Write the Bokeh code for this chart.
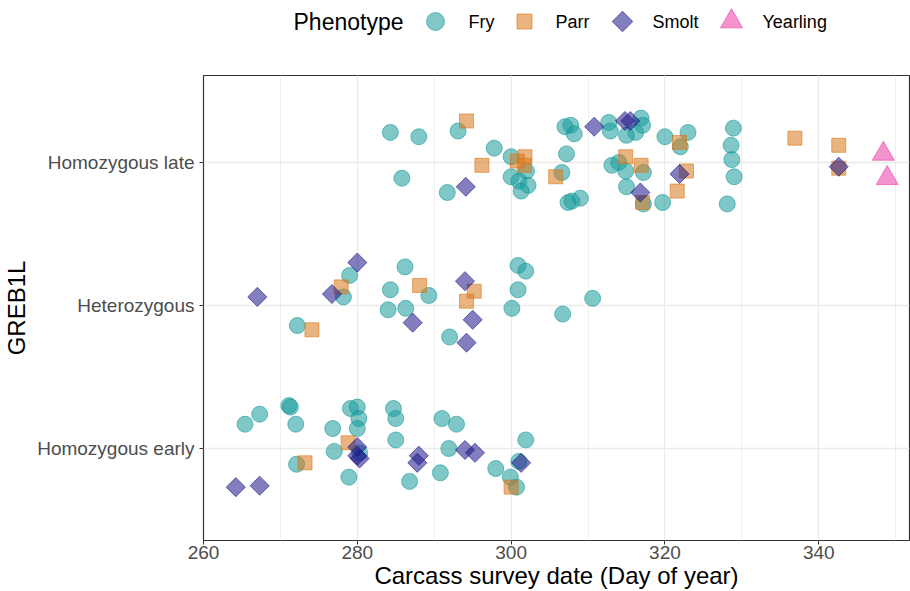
import numpy as np
from bokeh.plotting import figure
from bokeh.layouts import column
from bokeh.models import (Range1d, FixedTicker, SingleIntervalTicker, ColumnDataSource)
from bokeh.core.properties import value
from bokeh.embed import file_html
from bokeh.resources import INLINE

GENOTYPES = ["Homozygous early", "Heterozygous", "Homozygous late"]
PHENOTYPES = ["Fry", "Parr", "Smolt", "Yearling"]
LEGEND_TITLE = "Phenotype"

# ---- Fry ----
fry_late_day = [284.3, 288.0, 285.8, 293.1, 291.7, 297.8, 300.0, 302.0, 300.0, 301.0, 302.2, 301.3,
                306.6, 307.2, 307.0, 307.75, 308.2, 307.4, 307.9, 309.0, 312.7, 312.9, 315.0, 316.2,
                316.9, 317.1, 320.0, 323.0, 322.0, 313.1, 314.0, 314.9, 317.2, 315.0, 317.2, 319.7,
                328.9, 328.6, 328.7, 329.0, 328.1]
fry_late_jit = [0.21, 0.18, -0.11, 0.22, -0.21, 0.10, 0.04, -0.06, -0.10, -0.13, -0.16, -0.20,
                -0.07, 0.06, 0.25, 0.26, 0.20, -0.28, -0.27, -0.25, 0.28, 0.22, 0.19, 0.21,
                0.31, 0.26, 0.18, 0.21, 0.11, -0.02, 0.00, -0.06, -0.07, -0.17, -0.29, -0.28,
                0.24, 0.12, 0.02, -0.10, -0.29]
fry_het_day = [272.2, 279.0, 278.2, 286.2, 284.3, 289.3, 284.0, 286.3, 292.0, 300.9, 301.9, 300.9,
               300.1, 306.7, 310.6]
fry_het_jit = [-0.14, 0.21, 0.06, 0.27, 0.11, 0.07, -0.03, -0.02, -0.22, 0.28, 0.24, 0.11,
               -0.02, -0.06, 0.05]
fry_early_day = [265.4, 267.3, 271.1, 271.3, 272.0, 272.1, 276.8, 277.0, 278.9, 279.1, 280.0, 280.2,
                 280.0, 280.3, 284.7, 285.0, 285.0, 286.8, 291.0, 292.9, 291.9, 290.8, 298.0, 299.9,
                 300.7, 301.9, 301.0]
fry_early_jit = [0.17, 0.24, 0.30, 0.29, 0.17, -0.11, 0.14, -0.02, -0.20, 0.28, 0.29, 0.21,
                 0.14, -0.03, 0.28, 0.21, 0.06, -0.23, 0.21, 0.17, 0.00, -0.17, -0.14, -0.20,
                 -0.27, 0.06, -0.09]

# ---- Parr ----
parr_late_day = [294.2, 296.2, 300.8, 301.8, 301.7, 305.8, 314.9, 316.9, 317.1, 321.9, 322.8, 321.6,
                 336.9, 342.6, 342.6]
parr_late_jit = [0.29, -0.02, 0.01, 0.04, -0.02, -0.10, 0.04, -0.02, -0.28, 0.14, -0.06, -0.20,
                 0.17, 0.12, -0.04]
parr_het_day = [274.1, 277.9, 288.1, 295.2, 294.2]
parr_het_jit = [-0.17, 0.13, 0.14, 0.10, 0.03]
parr_early_day = [273.2, 278.8, 300.0]
parr_early_jit = [-0.10, 0.04, -0.27]

# ---- Smolt ----
smolt_late_day = [294.1, 310.8, 314.8, 315.5, 316.8, 321.9, 342.6]
smolt_late_jit = [-0.17, 0.25, 0.29, 0.29, -0.21, -0.08, -0.03]
smolt_het_day = [267.0, 280.0, 276.7, 287.2, 294.0, 295.0, 294.2]
smolt_het_jit = [0.06, 0.30, 0.08, -0.12, 0.17, -0.10, -0.26]
smolt_early_day = [264.2, 267.3, 280.0, 280.0, 280.3, 288.0, 287.8, 294.0, 295.3, 301.3]
smolt_early_jit = [-0.27, -0.26, 0.01, -0.05, -0.07, -0.05, -0.10, -0.01, -0.03, -0.10]

# ---- Yearling ----
yearling_late_day = [348.4, 348.9]
yearling_late_jit = [0.06, -0.11]

COLORS = {"Fry": "#189A9A", "Parr": "#D8771A", "Smolt": "#1E1688", "Yearling": "#EC3AAA"}
MARKERS = {"Fry": ("circle", 16, 0), "Parr": ("square", 14, 0),
           "Smolt": ("square", 13.5, np.pi / 4), "Yearling": ("triangle", 22, 0)}
KEY_SIZES = {"Fry": 18, "Parr": 15, "Smolt": 14.5, "Yearling": 22}


def build(early_d, early_j, het_d, het_j, late_d, late_j):
    xs, ys = [], []
    for g, d, j in ((GENOTYPES[0], early_d, early_j), (GENOTYPES[1], het_d, het_j),
                    (GENOTYPES[2], late_d, late_j)):
        base = GENOTYPES.index(g) + 1
        xs += list(d)
        ys += [base + v for v in j]
    return ColumnDataSource(dict(x=xs, y=ys))


src = {
    "Fry": build(fry_early_day, fry_early_jit, fry_het_day, fry_het_jit, fry_late_day, fry_late_jit),
    "Parr": build(parr_early_day, parr_early_jit, parr_het_day, parr_het_jit, parr_late_day, parr_late_jit),
    "Smolt": build(smolt_early_day, smolt_early_jit, smolt_het_day, smolt_het_jit, smolt_late_day, smolt_late_jit),
    "Yearling": build([], [], [], [], yearling_late_day, yearling_late_jit),
}

FONT = "Liberation Sans"
LEFT = 203
W = 910

# ---------------- main panel ----------------
p = figure(width=W, height=517, output_backend="svg", toolbar_location=None,
           x_range=Range1d(260, 351.8), y_range=Range1d(0.357, 3.608),
           min_border_left=LEFT, min_border_right=1, min_border_top=1, min_border_bottom=51)
p.background_fill_color = "white"
p.border_fill_color = "white"
p.outline_line_color = "#333333"
p.outline_line_width = 1.2

for ph in PHENOTYPES:
    m, s, ang = MARKERS[ph]
    p.scatter("x", "y", source=src[ph], marker=m, size=s, angle=ang,
              fill_color=COLORS[ph], fill_alpha=0.55,
              line_color=COLORS[ph], line_alpha=0.6, line_width=1)

p.xaxis.ticker = SingleIntervalTicker(interval=20, num_minor_ticks=2)
p.yaxis.ticker = FixedTicker(ticks=[1, 2, 3])
p.yaxis.major_label_overrides = {i + 1: g for i, g in enumerate(GENOTYPES)}
p.xaxis.axis_label = "Carcass survey date (Day of year)"
p.yaxis.axis_label = "GREB1L"
for ax in (p.xaxis, p.yaxis):
    ax.axis_line_color = None
    ax.major_tick_line_color = "#333333"
    ax.major_tick_out = 4
    ax.major_tick_in = 0
    ax.minor_tick_line_color = None
    ax.major_label_text_font = FONT
    ax.major_label_text_font_size = "19px"
    ax.major_label_text_color = "#4D4D4D"
    ax.axis_label_text_font = FONT
    ax.axis_label_text_font_size = "24px"
    ax.axis_label_text_font_style = "normal"
    ax.axis_label_text_color = "black"
p.xaxis.major_label_standoff = 1
p.xaxis.axis_label_standoff = 0
p.yaxis.major_label_standoff = 5
p.yaxis.axis_label_standoff = 4

p.xgrid.grid_line_color = "#EBEBEB"
p.xgrid.grid_line_width = 1.3
p.xgrid.minor_grid_line_color = "#EBEBEB"
p.xgrid.minor_grid_line_width = 0.8
p.ygrid.grid_line_color = "#EBEBEB"
p.ygrid.grid_line_width = 1.3

# ---------------- legend strip (pixel-like coordinates) ----------------
H = 74
hdr = figure(width=W, height=H, output_backend="svg", toolbar_location=None,
             x_range=Range1d(LEFT, W - 1), y_range=Range1d(H, 0),
             min_border_left=LEFT, min_border_right=1, min_border_top=0, min_border_bottom=0,
             outline_line_color=None)
hdr.axis.visible = False
hdr.grid.visible = False
hdr.background_fill_color = "white"
hdr.border_fill_color = "white"

LEG_Y = 21
KEY_X = [435, 524, 622, 731]      # legend key centres
LABEL_X = [468, 555, 652, 762]    # legend label left edges
for ph, kx, lx in zip(PHENOTYPES, KEY_X, LABEL_X):
    m, s, ang = MARKERS[ph]
    hdr.scatter(x=[kx], y=[LEG_Y], marker=m, size=KEY_SIZES[ph], angle=ang,
                fill_color=COLORS[ph], fill_alpha=0.55,
                line_color=COLORS[ph], line_alpha=0.6, line_width=1)
    hdr.text(x=[lx], y=[LEG_Y], text=[ph], text_font=value(FONT), text_font_size="18px",
             text_baseline="middle", text_align="left", text_color="black")
hdr.text(x=[293], y=[LEG_Y], text=[LEGEND_TITLE], text_font=value(FONT), text_font_size="23px",
         text_baseline="middle", text_align="left", text_color="black")

layout = column(hdr, p, spacing=0)
open("out.html", "w").write(file_html(layout, INLINE))
